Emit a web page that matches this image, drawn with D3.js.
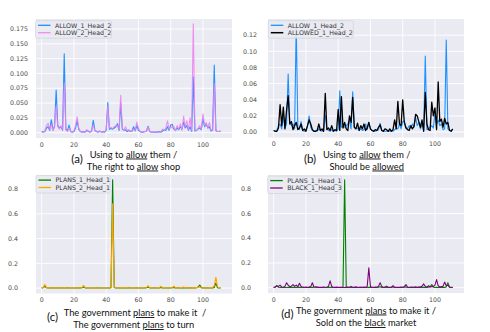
<!DOCTYPE html>
<html>
<head>
<meta charset="utf-8">
<script src="https://cdn.jsdelivr.net/npm/d3@7"></script>
<style>
    body { margin: 0; background: #fff; }
    svg { display: block; }
    .tick-label { font-family: "DejaVu Sans", sans-serif; font-size: 6.3px; fill: #4a4a4a; }
    .legend-label { font-family: "DejaVu Sans", sans-serif; font-size: 6.3px; fill: #333; }
    .caption { font-family: Lato, "Open Sans", sans-serif; font-size: 9.3px; fill: #111; }
    .panel-tag { font-family: Lato, "Open Sans", sans-serif; font-size: 11.5px; fill: #111; }
</style>
</head>
<body>
<div id="chart"></div>
<script>

// token positions 0..111
const allow1Head2 = [
    0.002, 0.001, 0.002, 0.008, 0.010, 0.004, 0.022, 0.005, 0.010, 0.072,
    0.012, 0.008, 0.010, 0.004, 0.133, 0.006, 0.003, 0.013, 0.002, 0.001,
    0.002, 0.008, 0.020, 0.006, 0.002, 0.001, 0.002, 0.001, 0.004, 0.002,
    0.001, 0.003, 0.021, 0.004, 0.002, 0.001, 0.003, 0.001, 0.002, 0.001,
    0.004, 0.051, 0.006, 0.007, 0.006, 0.008, 0.010, 0.015, 0.004, 0.050,
    0.006, 0.004, 0.005, 0.002, 0.004, 0.002, 0.003, 0.010, 0.003, 0.012,
    0.004, 0.002, 0.001, 0.001, 0.002, 0.003, 0.011, 0.002, 0.001, 0.001,
    0.001, 0.001, 0.001, 0.002, 0.001, 0.003, 0.005, 0.004, 0.010, 0.004,
    0.013, 0.014, 0.006, 0.004, 0.008, 0.005, 0.010, 0.006, 0.018, 0.008,
    0.012, 0.004, 0.010, 0.002, 0.094, 0.003, 0.004, 0.006, 0.008, 0.005,
    0.024, 0.010, 0.015, 0.008, 0.010, 0.003, 0.004, 0.114, 0.004, 0.002,
    0.002, 0.003
];

const allow2Head2 = [
    0.001, 0.001, 0.003, 0.012, 0.016, 0.006, 0.014, 0.003, 0.012, 0.045,
    0.010, 0.006, 0.012, 0.005, 0.084, 0.005, 0.002, 0.008, 0.002, 0.001,
    0.003, 0.012, 0.027, 0.008, 0.002, 0.001, 0.001, 0.002, 0.005, 0.003,
    0.001, 0.004, 0.013, 0.003, 0.003, 0.001, 0.002, 0.002, 0.001, 0.001,
    0.006, 0.045, 0.008, 0.009, 0.007, 0.010, 0.012, 0.012, 0.006, 0.063,
    0.008, 0.004, 0.010, 0.004, 0.005, 0.003, 0.002, 0.006, 0.004, 0.018,
    0.008, 0.002, 0.001, 0.001, 0.002, 0.002, 0.010, 0.003, 0.001, 0.001,
    0.001, 0.001, 0.001, 0.001, 0.002, 0.006, 0.004, 0.008, 0.020, 0.006,
    0.010, 0.008, 0.010, 0.003, 0.012, 0.006, 0.015, 0.004, 0.028, 0.010,
    0.020, 0.005, 0.025, 0.003, 0.184, 0.005, 0.003, 0.008, 0.012, 0.006,
    0.032, 0.012, 0.017, 0.008, 0.017, 0.004, 0.005, 0.083, 0.003, 0.002,
    0.002, 0.003
];

const allowed1Head2 = [
    0.002, 0.001, 0.001, 0.005, 0.034, 0.008, 0.031, 0.004, 0.027, 0.045,
    0.010, 0.013, 0.003, 0.008, 0.012, 0.003, 0.005, 0.010, 0.002, 0.004,
    0.001, 0.008, 0.015, 0.010, 0.003, 0.001, 0.001, 0.002, 0.010, 0.002,
    0.004, 0.001, 0.048, 0.003, 0.005, 0.002, 0.008, 0.001, 0.003, 0.002,
    0.028, 0.002, 0.044, 0.005, 0.012, 0.004, 0.002, 0.020, 0.012, 0.043,
    0.006, 0.004, 0.011, 0.002, 0.008, 0.004, 0.010, 0.002, 0.005, 0.012,
    0.004, 0.002, 0.001, 0.003, 0.002, 0.006, 0.009, 0.002, 0.001, 0.004,
    0.003, 0.001, 0.004, 0.001, 0.003, 0.015, 0.004, 0.038, 0.010, 0.008,
    0.040, 0.012, 0.005, 0.003, 0.002, 0.008, 0.004, 0.007, 0.022, 0.020,
    0.013, 0.006, 0.015, 0.001, 0.049, 0.010, 0.003, 0.002, 0.037, 0.020,
    0.030, 0.003, 0.062, 0.013, 0.016, 0.006, 0.017, 0.010, 0.012, 0.002,
    0.001, 0.004
];

const plans1Head1 = [
    0.002, 0.004, 0.015, 0.003, 0.001, 0.001, 0.002, 0.001, 0.001, 0.002,
    0.003, 0.001, 0.002, 0.001, 0.003, 0.002, 0.003, 0.001, 0.001, 0.001,
    0.001, 0.001, 0.002, 0.001, 0.002, 0.003, 0.008, 0.002, 0.001, 0.001,
    0.001, 0.001, 0.001, 0.001, 0.001, 0.002, 0.001, 0.001, 0.001, 0.001,
    0.001, 0.001, 0.002, 0.004, 0.875, 0.006, 0.002, 0.001, 0.001, 0.001,
    0.002, 0.004, 0.001, 0.001, 0.002, 0.001, 0.001, 0.001, 0.001, 0.002,
    0.001, 0.001, 0.001, 0.001, 0.002, 0.003, 0.008, 0.002, 0.001, 0.001,
    0.002, 0.001, 0.001, 0.002, 0.005, 0.001, 0.001, 0.001, 0.001, 0.001,
    0.002, 0.003, 0.006, 0.001, 0.001, 0.002, 0.001, 0.002, 0.004, 0.001,
    0.002, 0.001, 0.002, 0.003, 0.001, 0.002, 0.003, 0.008, 0.025, 0.004,
    0.001, 0.002, 0.001, 0.002, 0.001, 0.001, 0.002, 0.006, 0.040, 0.003,
    0.001, 0.001
];

const plans2Head1 = [
    0.002, 0.006, 0.030, 0.004, 0.001, 0.001, 0.002, 0.001, 0.002, 0.002,
    0.003, 0.002, 0.002, 0.001, 0.004, 0.002, 0.003, 0.001, 0.001, 0.001,
    0.002, 0.001, 0.002, 0.001, 0.003, 0.005, 0.022, 0.003, 0.001, 0.001,
    0.001, 0.001, 0.002, 0.001, 0.001, 0.002, 0.001, 0.001, 0.001, 0.001,
    0.001, 0.001, 0.002, 0.005, 0.680, 0.008, 0.002, 0.001, 0.001, 0.002,
    0.003, 0.006, 0.002, 0.001, 0.002, 0.001, 0.001, 0.002, 0.001, 0.003,
    0.001, 0.001, 0.001, 0.002, 0.003, 0.005, 0.020, 0.003, 0.001, 0.001,
    0.002, 0.001, 0.002, 0.004, 0.015, 0.002, 0.001, 0.001, 0.001, 0.002,
    0.003, 0.005, 0.015, 0.002, 0.001, 0.002, 0.002, 0.003, 0.008, 0.002,
    0.002, 0.001, 0.002, 0.003, 0.002, 0.002, 0.004, 0.005, 0.010, 0.003,
    0.001, 0.002, 0.001, 0.002, 0.002, 0.002, 0.004, 0.020, 0.088, 0.010,
    0.002, 0.001
];

const black1Head3 = [
    0.002, 0.005, 0.015, 0.010, 0.020, 0.005, 0.003, 0.010, 0.040, 0.020,
    0.008, 0.012, 0.025, 0.010, 0.020, 0.008, 0.035, 0.010, 0.004, 0.003,
    0.005, 0.002, 0.004, 0.008, 0.040, 0.005, 0.003, 0.004, 0.002, 0.003,
    0.002, 0.004, 0.003, 0.005, 0.010, 0.055, 0.010, 0.003, 0.002, 0.004,
    0.002, 0.003, 0.002, 0.001, 0.001, 0.002, 0.003, 0.004, 0.010, 0.003,
    0.002, 0.004, 0.003, 0.002, 0.003, 0.002, 0.004, 0.002, 0.010, 0.160,
    0.010, 0.003, 0.002, 0.004, 0.003, 0.010, 0.040, 0.010, 0.003, 0.004,
    0.012, 0.003, 0.002, 0.004, 0.015, 0.004, 0.002, 0.003, 0.002, 0.004,
    0.003, 0.008, 0.025, 0.005, 0.003, 0.002, 0.004, 0.003, 0.005, 0.002,
    0.004, 0.006, 0.012, 0.030, 0.010, 0.004, 0.015, 0.005, 0.008, 0.010,
    0.020, 0.065, 0.015, 0.005, 0.008, 0.010, 0.045, 0.015, 0.020, 0.005,
    0.003, 0.002
];

// tick labels
const xTicks = [0, 20, 40, 60, 80, 100];
const yTicksA = [0, 0.025, 0.05, 0.075, 0.1, 0.125, 0.15, 0.175];
const yTicksB = [0, 0.02, 0.04, 0.06, 0.08, 0.1, 0.12];
const yTicksCD = [0, 0.2, 0.4, 0.6, 0.8];


class LinePanel {

    constructor(svg, config) {
        this.svg = svg;
        this.config = config;
        this.initVis();
    }

    initVis() {
        let vis = this;
        let c = vis.config;

        vis.x = d3.scaleLinear().domain([-3.5, 118]).range([c.box.left, c.box.right]);
        vis.y = d3.scaleLinear().domain(c.yDomain).range([c.box.bottom, c.box.top]);

        vis.g = vis.svg.append("g");

        // seaborn darkgrid background
        vis.g.append("rect")
            .attr("x", c.box.left)
            .attr("y", c.box.top)
            .attr("width", c.box.right - c.box.left)
            .attr("height", c.box.bottom - c.box.top)
            .attr("fill", "#eaeaf2");

        vis.g.selectAll(".vgrid")
            .data(xTicks)
            .enter()
            .append("line")
            .attr("x1", d => vis.x(d))
            .attr("x2", d => vis.x(d))
            .attr("y1", c.box.top)
            .attr("y2", c.box.bottom)
            .attr("stroke", "#fff")
            .attr("stroke-width", 0.9);

        vis.g.selectAll(".hgrid")
            .data(c.yTicks)
            .enter()
            .append("line")
            .attr("x1", c.box.left)
            .attr("x2", c.box.right)
            .attr("y1", d => vis.y(d))
            .attr("y2", d => vis.y(d))
            .attr("stroke", "#fff")
            .attr("stroke-width", 0.9);

        // tick labels
        vis.g.selectAll(".xlab")
            .data(xTicks)
            .enter()
            .append("text")
            .attr("class", "tick-label")
            .attr("x", d => vis.x(d))
            .attr("y", c.box.bottom + 8.5)
            .attr("text-anchor", "middle")
            .text(d => d);

        vis.g.selectAll(".ylab")
            .data(c.yTicks)
            .enter()
            .append("text")
            .attr("class", "tick-label")
            .attr("x", c.yLabelRight)
            .attr("y", d => vis.y(d) + 2.2)
            .attr("text-anchor", "end")
            .text(d => d3.format(c.yFormat)(d));

        // series
        let line = d3.line()
            .x((d, i) => vis.x(i))
            .y(d => vis.y(d));

        c.series.forEach(s => {
            vis.g.append("path")
                .datum(s.values)
                .attr("d", line)
                .attr("fill", "none")
                .attr("stroke", s.color)
                .attr("stroke-width", s.width)
                .attr("stroke-opacity", s.opacity)
                .attr("stroke-linejoin", "round");
        });

        vis.drawLegend();
        vis.drawCaption();
    }

    drawLegend() {
        let vis = this;
        let c = vis.config;
        let lg = c.legend;

        vis.g.append("rect")
            .attr("x", lg.x)
            .attr("y", lg.y)
            .attr("width", lg.w)
            .attr("height", 17.5)
            .attr("rx", 1.5)
            .attr("fill", "#eaeaf2")
            .attr("fill-opacity", 0.85)
            .attr("stroke", "#cfcfd6")
            .attr("stroke-width", 0.6);

        c.series.forEach((s, i) => {
            let yy = lg.y + 4.6 + i * 7.4;
            vis.g.append("line")
                .attr("x1", lg.x + 2.5)
                .attr("x2", lg.x + 15)
                .attr("y1", yy)
                .attr("y2", yy)
                .attr("stroke", s.color)
                .attr("stroke-width", s.width + 0.2)
                .attr("stroke-opacity", s.opacity);
            vis.g.append("text")
                .attr("class", "legend-label")
                .attr("x", lg.x + 19.5)
                .attr("y", yy + 2.2)
                .text(s.name);
        });
    }

    drawCaption() {
        let vis = this;
        let c = vis.config;
        let cap = c.caption;

        vis.g.append("text")
            .attr("class", "panel-tag")
            .attr("x", cap.tagX)
            .attr("y", cap.tagY)
            .attr("text-anchor", "middle")
            .text(cap.tag);

        cap.lines.forEach((parts, i) => {
            let t = vis.g.append("text")
                .attr("class", "caption")
                .attr("x", cap.x[i])
                .attr("y", cap.y[i])
                .attr("text-anchor", "middle");
            parts.forEach(p => {
                t.append("tspan")
                    .attr("text-decoration", p[1] ? "underline" : null)
                    .style("white-space", "pre")
                    .text(p[0]);
            });
        });
    }
}


let svg = d3.select("#chart").append("svg")
    .attr("width", 490)
    .attr("height", 332);

new LinePanel(svg, {
    box: {left: 36, right: 232, top: 19, bottom: 138},
    yDomain: [-0.0089, 0.1919],
    yTicks: yTicksA,
    yFormat: ".3f",
    yLabelRight: 28,
    series: [
        {name: "ALLOW_1_Head_2", values: allow1Head2, color: "#1e90ff", width: 1.1, opacity: 1},
        {name: "ALLOW_2_Head_2", values: allow2Head2, color: "#ee82ee", width: 1.1, opacity: 0.9}
    ],
    legend: {x: 35.5, y: 20.7, w: 76},
    caption: {
        tag: "(a)", tagX: 77, tagY: 163,
        x: [133.5, 133.5], y: [157.5, 169.5],
        lines: [
            [["Using to ", false], ["allow", true], [" them /", false]],
            [["The right to ", false], ["allow", true], [" shop", false]]
        ]
    }
});

new LinePanel(svg, {
    box: {left: 268, right: 464, top: 19, bottom: 137.5},
    yDomain: [-0.0067, 0.14],
    yTicks: yTicksB,
    yFormat: ".2f",
    yLabelRight: 257,
    series: [
        {name: "ALLOW_1_Head_2", values: allow1Head2, color: "#1e90ff", width: 1.1, opacity: 1},
        {name: "ALLOWED_1_Head_2", values: allowed1Head2, color: "#000000", width: 1.3, opacity: 1}
    ],
    legend: {x: 268.3, y: 20.7, w: 85},
    caption: {
        tag: "(b)", tagX: 310, tagY: 163,
        x: [366.7, 366.7], y: [157.5, 169.5],
        lines: [
            [["Using to ", false], ["allow", true], [" them /", false]],
            [["Should be ", false], ["allowed", true]]
        ]
    }
});

new LinePanel(svg, {
    box: {left: 36, right: 232, top: 175, bottom: 293.5},
    yDomain: [-0.0435, 0.913],
    yTicks: yTicksCD,
    yFormat: ".1f",
    yLabelRight: 18,
    series: [
        {name: "PLANS_1_Head_1", values: plans1Head1, color: "#008000", width: 1.1, opacity: 1},
        {name: "PLANS_2_Head_1", values: plans2Head1, color: "#ffa500", width: 1.1, opacity: 1}
    ],
    legend: {x: 36, y: 175.5, w: 74},
    caption: {
        tag: "(c)", tagX: 52.5, tagY: 320.5,
        x: [135, 133.7], y: [316, 328],
        lines: [
            [["The government ", false], ["plans", true], [" to make it  /", false]],
            [["The government ", false], ["plans", true], [" to turn", false]]
        ]
    }
});

new LinePanel(svg, {
    box: {left: 268, right: 464, top: 175, bottom: 293},
    yDomain: [-0.0435, 0.913],
    yTicks: yTicksCD,
    yFormat: ".1f",
    yLabelRight: 251,
    series: [
        {name: "PLANS_1_Head_1", values: plans1Head1, color: "#008000", width: 1.1, opacity: 1},
        {name: "BLACK_1_Head_3", values: black1Head3, color: "#800080", width: 1.1, opacity: 1}
    ],
    legend: {x: 267.7, y: 176, w: 74},
    caption: {
        tag: "(d)", tagX: 287.5, tagY: 318,
        x: [366, 366], y: [313.5, 326],
        lines: [
            [["The government ", false], ["plans", true], [" to make it /", false]],
            [["Sold on the ", false], ["black", true], [" market", false]]
        ]
    }
});

</script>
</body>
</html>
